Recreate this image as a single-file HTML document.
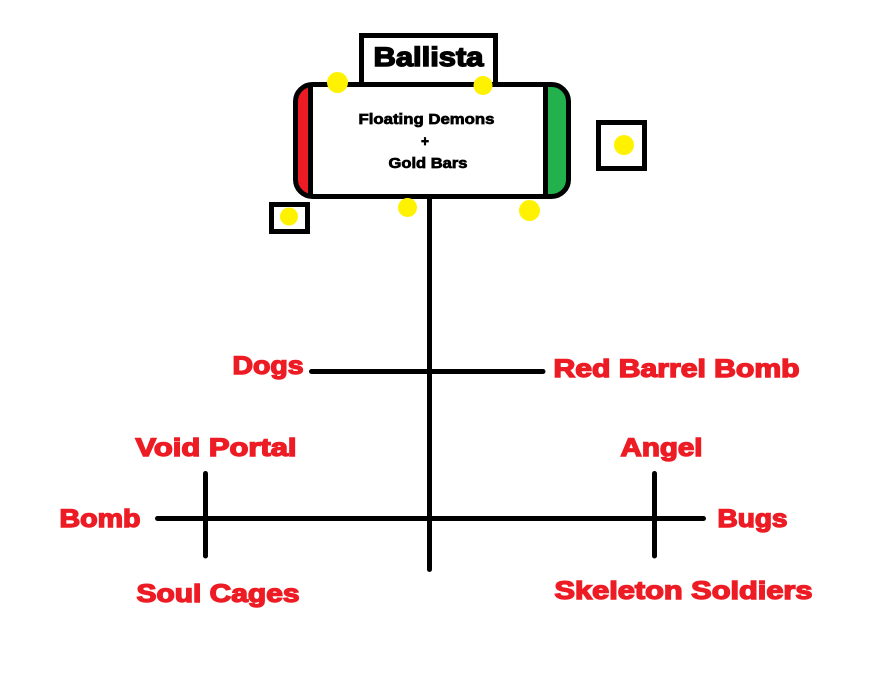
<!DOCTYPE html>
<html>
<head>
<meta charset="utf-8">
<style>
html,body{margin:0;padding:0;background:#fff;}
svg{display:block;}
text{font-family:"Liberation Sans",Arial,sans-serif;font-weight:bold;}
.r{fill:#ed1c24;stroke:#ed1c24;stroke-width:1.4px;font-size:25px;}
.b{fill:#000;stroke:#000;stroke-width:.7px;font-size:14.5px;}
</style>
</head>
<body>
<svg width="889" height="674" viewBox="0 0 889 674" xmlns="http://www.w3.org/2000/svg">
<defs>
<clipPath id="c"><rect x="295.5" y="84.5" width="273" height="112" rx="17"/></clipPath>
</defs>
<rect width="889" height="674" fill="#fff"/>

<rect x="361.5" y="35.5" width="134" height="50" fill="#fff" stroke="#000" stroke-width="5"/>
<text x="373.5" y="66" font-size="26.5" textLength="110" lengthAdjust="spacingAndGlyphs" style="fill:#000;stroke:#000;stroke-width:1.4px">Ballista</text>

<rect x="295.5" y="84.5" width="273" height="112" rx="17" fill="#fff"/>
<g clip-path="url(#c)">
<rect x="290" y="80" width="20" height="120" fill="#ed1c24"/>
<rect x="546" y="80" width="26" height="120" fill="#22b14c"/>
</g>
<rect x="295.5" y="84.5" width="273" height="112" rx="17" fill="none" stroke="#000" stroke-width="5"/>
<rect x="308" y="84" width="5" height="113" fill="#000"/>
<rect x="543" y="84" width="5" height="113" fill="#000"/>

<text class="b" x="358.5" y="124" textLength="136" lengthAdjust="spacingAndGlyphs">Floating Demons</text>
<text class="b" x="421" y="146" textLength="8" lengthAdjust="spacingAndGlyphs">+</text>
<text class="b" x="388.5" y="168" textLength="79" lengthAdjust="spacingAndGlyphs">Gold Bars</text>

<rect x="598.5" y="122.5" width="46" height="46" fill="#fff" stroke="#000" stroke-width="5"/>
<rect x="271.5" y="204.5" width="36" height="27" fill="#fff" stroke="#000" stroke-width="5"/>

<g stroke="#000" stroke-width="5" stroke-linecap="round" fill="none">
<line x1="429.5" y1="198" x2="429.5" y2="569.5"/>
<line x1="311.5" y1="371.5" x2="543" y2="371.5"/>
<line x1="157.5" y1="518.5" x2="703.5" y2="518.5"/>
<line x1="205.5" y1="473.5" x2="205.5" y2="556"/>
<line x1="654.5" y1="473.5" x2="654.5" y2="556"/>
</g>

<g fill="#fff200">
<circle cx="337.5" cy="82.5" r="10.5"/>
<circle cx="483" cy="85.5" r="9.5"/>
<circle cx="407.5" cy="207.5" r="9.5"/>
<circle cx="529.5" cy="210.5" r="10.5"/>
<circle cx="624" cy="145" r="10"/>
<circle cx="289" cy="216.5" r="9"/>
</g>

<text class="r" x="232.5" y="374" textLength="71" lengthAdjust="spacingAndGlyphs">Dogs</text>
<text class="r" x="553.5" y="377" textLength="246" lengthAdjust="spacingAndGlyphs">Red Barrel Bomb</text>
<text class="r" x="135.5" y="456" textLength="161" lengthAdjust="spacingAndGlyphs">Void Portal</text>
<text class="r" x="620.5" y="456" textLength="82" lengthAdjust="spacingAndGlyphs">Angel</text>
<text class="r" x="59.5" y="527" textLength="81" lengthAdjust="spacingAndGlyphs">Bomb</text>
<text class="r" x="717.5" y="527" textLength="70" lengthAdjust="spacingAndGlyphs">Bugs</text>
<text class="r" x="136.5" y="602" textLength="163" lengthAdjust="spacingAndGlyphs">Soul Cages</text>
<text class="r" x="554.5" y="599" textLength="258" lengthAdjust="spacingAndGlyphs">Skeleton Soldiers</text>
</svg>
</body>
</html>
